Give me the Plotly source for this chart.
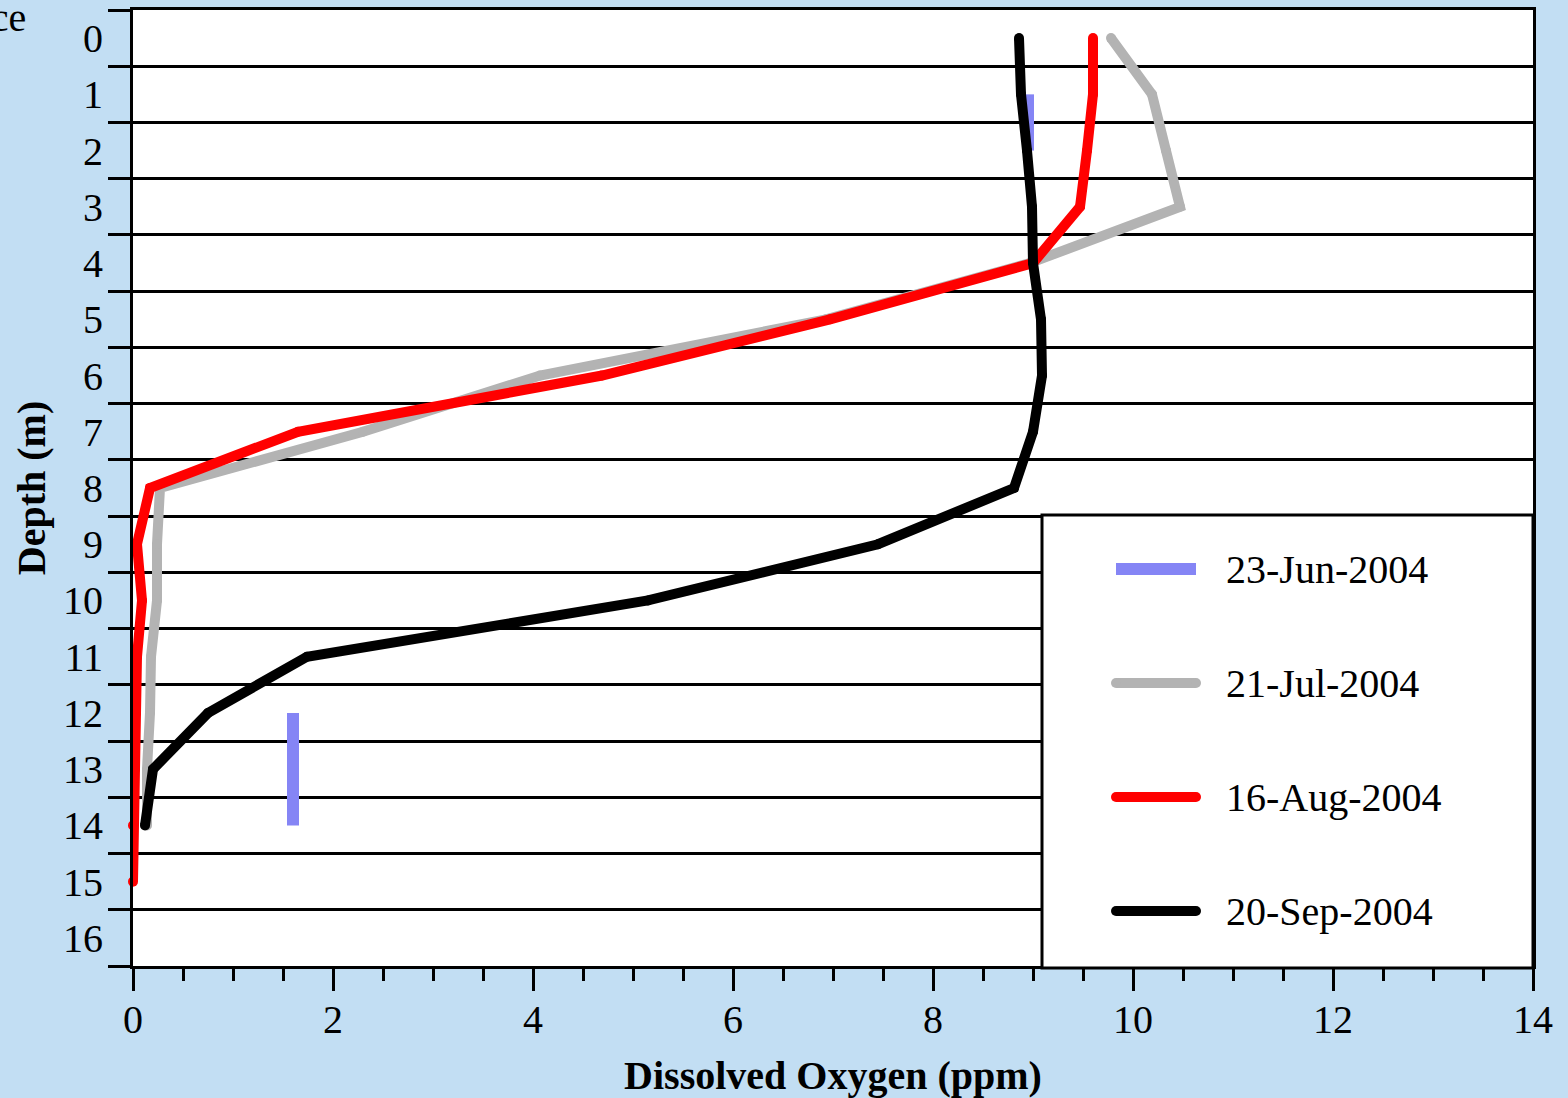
import plotly.graph_objects as go

# ---------------- data ----------------
series_names = ["23-Jun-2004", "21-Jul-2004", "16-Aug-2004", "20-Sep-2004"]

jun_depth = [1, 2, None, 12, 13, 14]
jun_do = [8.95, 8.95, None, 1.6, 1.6, 1.6]

jul_depth = list(range(0, 15))
jul_do = [9.78, 10.19, 10.33, 10.47, 8.97, 6.93, 4.07, 2.3, 0.27, 0.24, 0.24, 0.18, 0.17, 0.14, 0.14]

aug_depth = list(range(0, 16))
aug_do = [9.6, 9.6, 9.54, 9.47, 9.0, 6.97, 4.69, 1.65, 0.17, 0.04, 0.09, 0.04, 0.03, 0.02, 0.0, 0.0]

sep_depth = list(range(0, 15))
sep_do = [8.86, 8.88, 8.94, 8.99, 9.0, 9.08, 9.09, 9.0, 8.81, 7.45, 5.15, 1.74, 0.75, 0.2, 0.12]

y_tick_vals = list(range(0, 17))
x_tick_vals = [0, 2, 4, 6, 8, 10, 12, 14]

# ---------------- style ----------------
W, H = 1568, 1098
ML, MR, MT, MB = 133, 35, 10, 132
BG = "#C2DEF3"
FONT = "Liberation Serif"
FS = 40

colors = ["#8585F5", "#B3B3B3", "#FF0000", "#000000"]
widths = [12, 10, 10, 10]

fig = go.Figure()

data = [(jun_do, jun_depth), (jul_do, jul_depth), (aug_do, aug_depth), (sep_do, sep_depth)]
for i, (xv, yv) in enumerate(data):
    if i == 0:
        fig.add_trace(go.Scatter(x=xv, y=yv, mode="lines", name=series_names[i],
                                 line=dict(color=colors[i], width=widths[i]),
                                 connectgaps=False, showlegend=False, hoverinfo="skip"))
    else:
        fig.add_trace(go.Scatter(x=xv, y=yv, mode="lines+markers", name=series_names[i],
                                 line=dict(color=colors[i], width=widths[i]),
                                 marker=dict(color=colors[i], size=widths[i], line=dict(width=0)),
                                 cliponaxis=False,
                                 showlegend=False, hoverinfo="skip"))

# ---------------- custom legend (paper coordinates from pixel layout) ----------------
PW, PH = W - ML - MR, H - MT - MB
def px2x(px):
    return (px - ML) / PW
def py2y(py):
    return (H - MB - py) / PH

leg_left_px, leg_top_px = 1042, 515
fig.add_shape(type="rect", xref="paper", yref="paper",
              x0=px2x(leg_left_px), x1=1.0, y0=py2y(H - MB + 2), y1=py2y(leg_top_px),
              fillcolor="white", line=dict(color="black", width=3), layer="above")
row_px = [569, 683, 797, 911]
for i, name in enumerate(series_names):
    yy = py2y(row_px[i])
    fig.add_shape(type="line", xref="paper", yref="paper",
                  x0=px2x(1116), x1=px2x(1196), y0=yy, y1=yy,
                  line=dict(color=colors[i], width=widths[i]), layer="above")
    if i > 0:
        for cx in (1116, 1196):
            r = widths[i] / 2
            fig.add_shape(type="circle", xref="paper", yref="paper",
                          x0=px2x(cx - r), x1=px2x(cx + r),
                          y0=py2y(row_px[i] + r), y1=py2y(row_px[i] - r),
                          fillcolor=colors[i], line=dict(width=0), layer="above")
    fig.add_annotation(text=name, xref="paper", yref="paper", x=px2x(1224), y=yy,
                       xanchor="left", yanchor="middle", showarrow=False,
                       font=dict(family=FONT, size=FS, color="black"))

# cut-off "Surface" label at top-left (partially outside the page, as in the original)
fig.add_annotation(text="Surface", xref="paper", yref="paper", x=px2x(28), y=py2y(17),
                   xanchor="right", yanchor="middle", showarrow=False,
                   font=dict(family=FONT, size=FS, color="black"))

fig.update_layout(
    width=W, height=H,
    margin=dict(l=ML, r=MR, t=MT, b=MB, pad=0, autoexpand=False),
    paper_bgcolor=BG, plot_bgcolor="white",
    font=dict(family=FONT, size=FS, color="black"),
    showlegend=False,
)

fig.update_xaxes(
    range=[0, 14], tickvals=x_tick_vals, ticktext=[str(v) for v in x_tick_vals],
    showgrid=False, zeroline=False, automargin=False,
    showline=True, linecolor="black", linewidth=3, mirror=True,
    ticks="outside", ticklen=22, tickwidth=3, tickcolor="black",
    ticklabelstandoff=-6,
    minor=dict(tick0=0, dtick=0.5, ticks="outside", ticklen=12, tickwidth=3, tickcolor="black", showgrid=False),
    tickfont=dict(family=FONT, size=FS),
    title=dict(text="<b>Dissolved Oxygen (ppm)</b>", font=dict(family=FONT, size=FS), standoff=22),
)

fig.update_yaxes(
    range=[16.5, -0.5], tickvals=y_tick_vals, ticktext=[str(v) for v in y_tick_vals],
    showgrid=False, zeroline=False, automargin=False,
    showline=True, linecolor="black", linewidth=3, mirror=True,
    ticks="", ticklabelstandoff=19,
    minor=dict(tick0=0.5, dtick=1, ticks="outside", ticklen=22, tickwidth=3, tickcolor="black",
               showgrid=True, gridcolor="black", gridwidth=3),
    tickfont=dict(family=FONT, size=FS),
    title=dict(text="<b>Depth (m)</b>", font=dict(family=FONT, size=FS), standoff=6),
)

fig.write_html("out.html", config={"displayModeBar": False},
               post_script="document.body.style.margin='0';document.body.style.padding='0';")
